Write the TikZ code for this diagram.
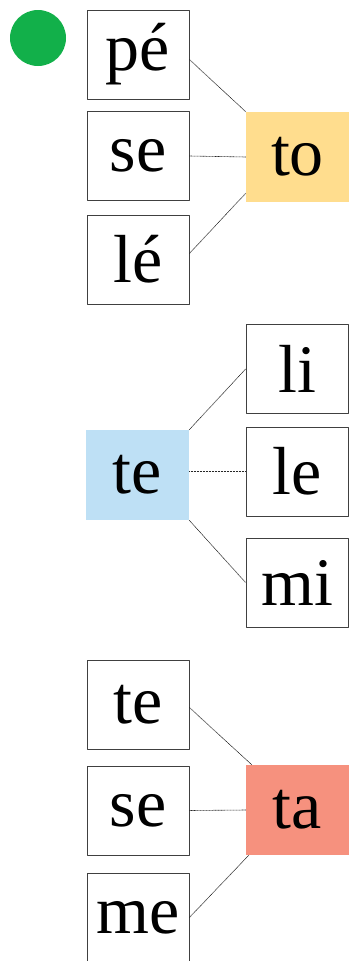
\documentclass[tikz,border=0pt]{standalone}
\usepackage{fontspec}
\setmainfont{Liberation Serif}
\usepackage{tikz}
\definecolor{dotgreen}{HTML}{12B04A}
\definecolor{syorange}{HTML}{FFDD8E}
\definecolor{syblue}{HTML}{BEE0F5}
\definecolor{syred}{HTML}{F6917E}
\begin{document}
\begin{tikzpicture}[x=1pt,y=-1pt,line join=round]
\tikzstyle{syl} = [draw=black!75,line width=0.8pt,minimum width=102pt,minimum height=89pt,inner sep=0pt,font=\fontsize{68}{70}\selectfont]
\tikzstyle{hub} = [minimum width=103pt,minimum height=90pt,inner sep=0pt,font=\fontsize{68}{70}\selectfont]
\tikzstyle{link} = [black!85,line width=0.6pt,dash pattern=on 1pt off 0.5pt]
\useasboundingbox (0,0) rectangle (351,961);
\fill[dotgreen] (38,38) circle (28);
\node[syl] (pe) at (138,54.5) {pé};
\node[syl] (se1) at (138,156) {se};
\node[syl] (le1) at (138,259.5) {lé};
\node[hub,fill=syorange] (to) at (297.5,157) {to};
\node[hub,fill=syblue] (te1) at (137.5,475) {te};
\node[syl] (li) at (297,369) {li};
\node[syl] (le2) at (297,471.5) {le};
\node[syl] (mi) at (297,582.5) {mi};
\node[syl] (te2) at (138,704.5) {te};
\node[syl] (se2) at (138,810.5) {se};
\node[syl] (me) at (138,917.5) {me};
\node[hub,fill=syred] (ta) at (297.5,810) {ta};
\draw[link] ([yshift=-5pt]pe.east)--(to.north west);
\draw[link] (se1.east)--(to.west);
\draw[link] ([yshift=6pt]le1.east)--([yshift=9pt]to.south west);
\draw[link] (te1.north east)--(li.west);
\draw[link] ([yshift=3.5pt]te1.east)--(le2.west);
\draw[link] (te1.south east)--(mi.west);
\draw[link] ([yshift=-3pt]te2.east)--([xshift=6pt]ta.north west);
\draw[link] (se2.east)--(ta.west);
\draw[link] (me.east)--([xshift=3pt]ta.south west);
\end{tikzpicture}
\end{document}
